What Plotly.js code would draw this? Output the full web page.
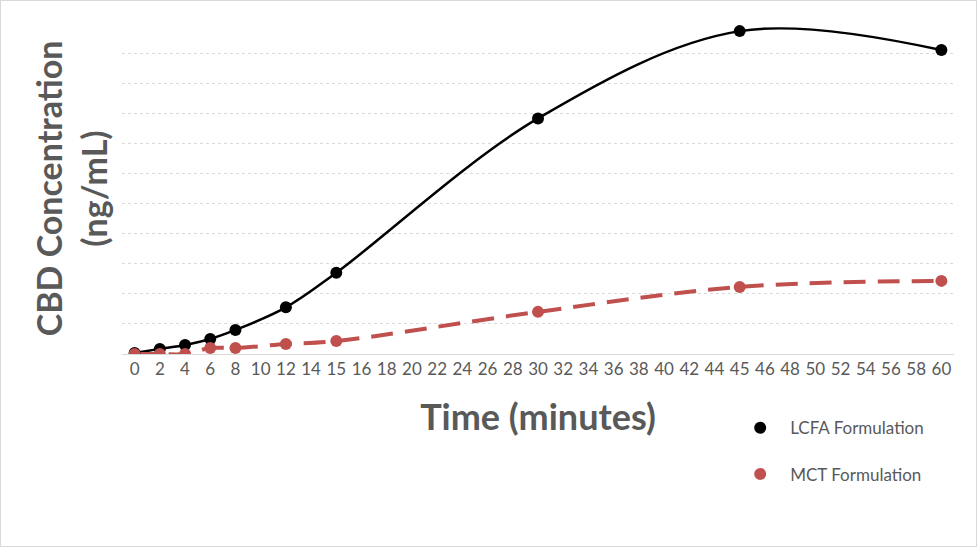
<!DOCTYPE html>
<html>
<head>
<meta charset="utf-8">
<script src="https://cdn.plot.ly/plotly-3.0.1.min.js"></script>
<style>
html,body{margin:0;padding:0;background:#fff;}
#chart{width:975px;height:545px;border:1px solid #d9d9d9;}
</style>
</head>
<body>
<div id="chart"></div>
<script>
// x-axis category labels (minutes)
var categories = ["0","2","4","6","8","10","12","14","15","16","18","20","22","24","26","28","30","32","34","36","38","40","42","44","45","46","48","50","52","54","56","58","60"];
// sampling times
var times = ["0","2","4","6","8","12","15","30","45","60"];
// CBD concentration (gridline units)
var lcfa = [0.03, 0.17, 0.3, 0.5, 0.8, 1.55, 2.7, 7.83, 10.73, 10.1];
var mct  = [0.0, 0.0, 0.0, 0.2, 0.2, 0.33, 0.43, 1.4, 2.23, 2.43];

var gray = "#595959";
var red = "#C0504D";
var font = "Lato, 'Open Sans', sans-serif";

var traces = [
  {x: times, y: lcfa, type: "scatter", mode: "lines", line: {color: "#000", width: 2.5, shape: "spline", smoothing: 1.0}, showlegend: false, hoverinfo: "skip"},
  {x: times, y: mct, type: "scatter", mode: "lines", line: {color: red, width: 4, dash: "22px,12px", shape: "spline", smoothing: 1.0}, showlegend: false, hoverinfo: "skip"},
  {x: times, y: lcfa, type: "scatter", mode: "markers", name: "LCFA Formulation", marker: {color: "#000", size: 12}, legendgroup: "a"},
  {x: times, y: mct, type: "scatter", mode: "markers", name: "MCT Formulation", marker: {color: red, size: 12}, legendgroup: "b"}
];

var layout = {
  width: 975, height: 545,
  margin: {l: 121, r: 22, t: 22, b: 192},
  paper_bgcolor: "#fff", plot_bgcolor: "#fff",
  font: {family: font, color: gray, size: 17},
  xaxis: {
    type: "category", categoryorder: "array", categoryarray: categories,
    range: [-0.5, categories.length - 0.5],
    showgrid: false, showline: true, linecolor: "#d9d9d9", linewidth: 1,
    ticks: "", tickfont: {size: 17, color: gray},
    title: {text: "<b>Time (minutes)</b>", font: {size: 36, color: gray, family: font}, standoff: 26}
  },
  yaxis: {
    range: [0, 11], dtick: 1, showticklabels: false, ticks: "",
    showgrid: true, gridcolor: "#d9d9d9", griddash: "dot", gridwidth: 1, zeroline: false,
    title: {text: "<b>CBD Concentration<br>(ng/mL)</b>", font: {size: 34, color: gray, family: font}, standoff: 3}
  },
  showlegend: true,
  legend: {x: 0.731, y: -0.17, xanchor: "left", yanchor: "top", traceorder: "grouped", tracegroupgap: 21, font: {size: 17, color: gray}, itemwidth: 50, bgcolor: "rgba(0,0,0,0)"}
};

Plotly.newPlot("chart", traces, layout, {displayModeBar: false, staticPlot: true});
</script>
</body>
</html>
